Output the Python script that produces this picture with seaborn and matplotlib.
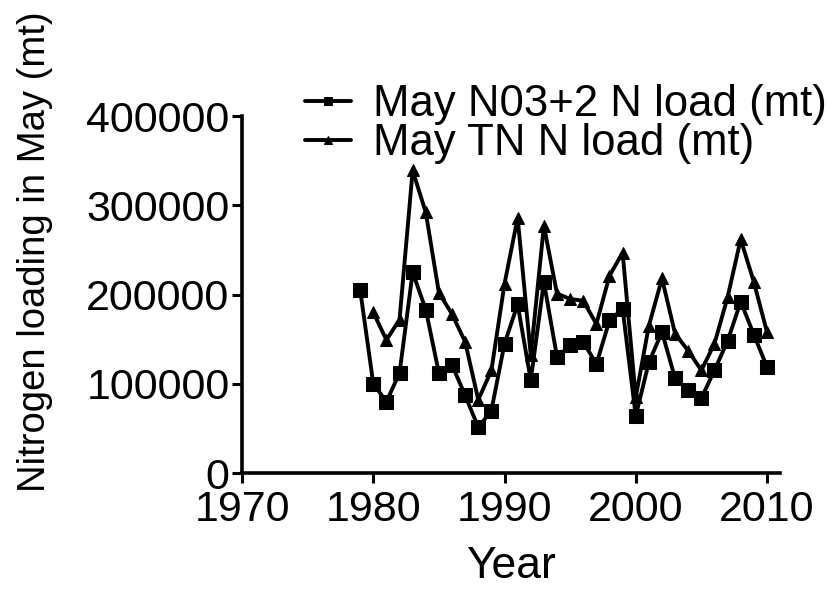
import numpy as np
import pandas as pd
import matplotlib
import matplotlib.pyplot as plt
import seaborn as sns

matplotlib.use('Agg')

years = list(range(1979, 2011))
no3_load = [205000, 100000, 80000, 112000, 225000, 183000, 112000, 121000, 87000, 51000,
            70000, 145000, 189000, 104000, 214000, 130000, 143000, 147000, 122000, 171000,
            184000, 64000, 124000, 158000, 106000, 93000, 84000, 115000, 148000, 192000,
            155000, 119000]
tn_load = [np.nan, 180000, 149000, 172000, 339000, 292000, 202000, 178000, 147000, 82000,
           115000, 212000, 286000, 132000, 277000, 201000, 195000, 193000, 167000, 221000,
           247000, 85000, 165000, 218000, 156000, 137000, 115000, 145000, 197000, 262000,
           214000, 158000]
series_names = ["May N03+2 N load (mt)", "May TN N load (mt)"]

sns.set_style("ticks")
plt.rcParams['font.family'] = ['Liberation Sans', 'DejaVu Sans']
plt.rcParams['text.color'] = 'black'
plt.rcParams['axes.labelcolor'] = 'black'
plt.rcParams['xtick.color'] = 'black'
plt.rcParams['ytick.color'] = 'black'

df = pd.DataFrame({"Year": years, series_names[0]: no3_load, series_names[1]: tn_load})

fig = plt.figure(figsize=(8.29, 5.92), dpi=100)
ax = fig.add_axes([0.292, 0.201, 0.649, 0.603])

sns.lineplot(data=df, x="Year", y=series_names[0], ax=ax, color="black", lw=2.8,
             marker="s", markersize=10, markeredgecolor="black", label=series_names[0])
sns.lineplot(data=df, x="Year", y=series_names[1], ax=ax, color="black", lw=2.8,
             marker="^", markersize=9, markeredgecolor="black", label=series_names[1])

ax.set_xlim(1970, 2011)
ax.set_ylim(0, 400000)
ax.set_xticks([1970, 1980, 1990, 2000, 2010])
ax.set_yticks([0, 100000, 200000, 300000, 400000])
ax.yaxis.set_major_formatter(matplotlib.ticker.FuncFormatter(lambda v, p: f"{int(v)}"))
ax.tick_params(labelsize=31, width=2.2, length=7, color="black", labelcolor="black", pad=2)
ax.tick_params(axis="x", pad=5)
for s in ["left", "bottom"]:
    ax.spines[s].set_linewidth(2.6)
    ax.spines[s].set_color("black")
sns.despine(ax=ax)

ax.set_xlabel("Year", fontsize=32, labelpad=12)
ax.set_ylabel("Nitrogen loading in May (mt)", fontsize=27.5)
ax.yaxis.set_label_coords(-0.352, 0.619)

leg = ax.legend(loc="upper left", bbox_to_anchor=(0.368, 0.858), bbox_transform=fig.transFigure,
                frameon=False, fontsize=31.5, handlelength=1.05, handletextpad=0.5,
                labelspacing=-0.05, borderpad=0, borderaxespad=0, markerscale=0.6)

fig.savefig("out.png", dpi=100)
